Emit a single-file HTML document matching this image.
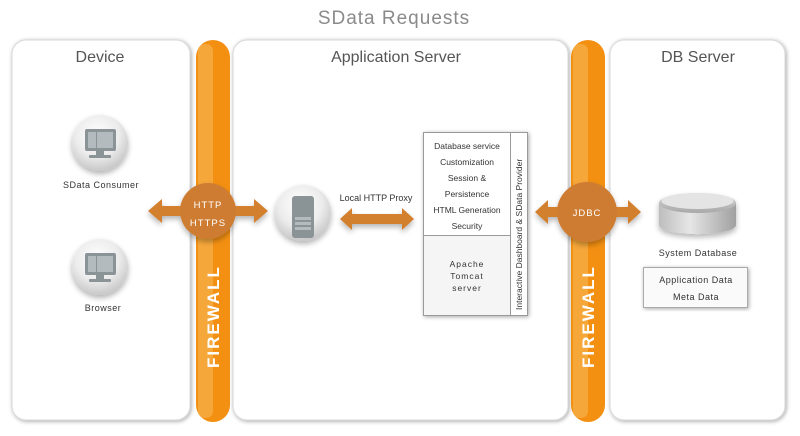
<!DOCTYPE html>
<html><head><meta charset="utf-8"><style>
html,body{margin:0;padding:0;background:#fff;}
svg{display:block;font-family:"Liberation Sans",sans-serif;}
</style></head><body>
<svg width="800" height="436" viewBox="0 0 800 436" xmlns="http://www.w3.org/2000/svg">
<defs>
<radialGradient id="ball" cx="45%" cy="35%" r="65%">
<stop offset="0" stop-color="#ffffff"/><stop offset="0.6" stop-color="#ececec"/><stop offset="1" stop-color="#c8c8c8"/>
</radialGradient>
<linearGradient id="cyl" x1="0" x2="0" y1="0" y2="1"><stop offset="0" stop-color="#d8d8d8"/><stop offset="1" stop-color="#a8a8a8"/></linearGradient>
<linearGradient id="cylb" x1="0" x2="1" y1="0" y2="0"><stop offset="0" stop-color="#bdbdbd"/><stop offset="0.4" stop-color="#e6e6e6"/><stop offset="1" stop-color="#a0a0a0"/></linearGradient>
<filter id="sh" x="-10%" y="-10%" width="120%" height="120%"><feGaussianBlur in="SourceAlpha" stdDeviation="2"/><feOffset dx="1" dy="1"/><feComponentTransfer><feFuncA type="linear" slope="0.35"/></feComponentTransfer><feMerge><feMergeNode/><feMergeNode in="SourceGraphic"/></feMerge></filter>
<filter id="glow" x="-30%" y="-30%" width="160%" height="160%"><feGaussianBlur in="SourceAlpha" stdDeviation="3"/><feOffset dy="3"/><feComponentTransfer><feFuncA type="linear" slope="0.3"/></feComponentTransfer><feMerge><feMergeNode/><feMergeNode in="SourceGraphic"/></feMerge></filter>
</defs>

<text x="394" y="24" font-size="19" fill="#8a8a8a" text-anchor="middle" letter-spacing="1">SData Requests</text>

<g filter="url(#sh)" fill="#fff" stroke="#d8d8d8" stroke-width="1">
<rect x="12" y="40" width="178" height="380" rx="14"/>
<rect x="233" y="40" width="335" height="380" rx="14"/>
<rect x="610" y="40" width="175" height="380" rx="14"/>
</g>
<text x="100" y="62" font-size="16" fill="#555" text-anchor="middle">Device</text>
<text x="396" y="62" font-size="16" fill="#555" text-anchor="middle">Application Server</text>
<text x="698" y="62" font-size="16" fill="#555" text-anchor="middle">DB Server</text>

<!-- firewalls -->
<g>
<rect x="196" y="40" width="34" height="382" rx="17" fill="#f39012"/>
<rect x="198" y="44" width="15" height="374" rx="7" fill="#f6ac45" opacity="0.8"/>
<rect x="571" y="40" width="34" height="382" rx="17" fill="#f39012"/>
<rect x="573" y="44" width="15" height="374" rx="7" fill="#f6ac45" opacity="0.8"/>
<text transform="translate(219,368) rotate(-90)" font-size="17" fill="#fff" letter-spacing="2" font-weight="bold">FIREWALL</text>
<text transform="translate(594,368) rotate(-90)" font-size="17" fill="#fff" letter-spacing="2" font-weight="bold">FIREWALL</text>
</g>

<!-- monitors -->
<g filter="url(#glow)">
<circle cx="100" cy="143" r="28" fill="url(#ball)"/>
<circle cx="100" cy="267" r="28" fill="url(#ball)"/>
<circle cx="303" cy="213" r="28" fill="url(#ball)"/>
</g>
<g fill="#8a9396">
<rect x="85" y="129" width="31" height="22" rx="2"/><rect x="96" y="151" width="8" height="5"/><rect x="89" y="155" width="22" height="3" rx="1"/>
<rect x="85" y="253" width="31" height="22" rx="2"/><rect x="96" y="275" width="8" height="5"/><rect x="89" y="279" width="22" height="3" rx="1"/>
<rect x="292" y="196" width="22" height="42" rx="3"/>
</g>
<g fill="#b4bbbe">
<rect x="88" y="132" width="8" height="16"/><rect x="97" y="132" width="16" height="16"/>
<rect x="88" y="256" width="8" height="16"/><rect x="97" y="256" width="16" height="16"/>
<rect x="295" y="217" width="16" height="3"/><rect x="295" y="222" width="16" height="3"/><rect x="295" y="227" width="16" height="3"/>
</g>
<text x="101" y="188" font-size="9" fill="#333" text-anchor="middle" letter-spacing="0.5">SData Consumer</text>
<text x="103" y="311" font-size="9" fill="#333" text-anchor="middle" letter-spacing="0.5">Browser</text>

<!-- arrows -->
<g fill="#d2802f" filter="url(#glow)">
<path d="M148,211 L162,199 L162,206 L254,206 L254,199 L268,211 L254,223 L254,216 L162,216 L162,223 Z"/>
<path d="M340,219 L352,208 L352,214 L402,214 L402,208 L414,219 L402,230 L402,224 L352,224 L352,230 Z"/>
<path d="M535,212 L548,200 L548,207 L628,207 L628,200 L641,212 L628,224 L628,217 L548,217 L548,224 Z"/>
<circle cx="208" cy="211" r="28" fill="#cd7c32"/>
<circle cx="587" cy="212" r="30" fill="#cd7c32"/>
</g>
<text x="208" y="208" font-size="9.5" fill="#fff" text-anchor="middle" letter-spacing="1">HTTP</text>
<text x="208" y="226" font-size="9.5" fill="#fff" text-anchor="middle" letter-spacing="1">HTTPS</text>
<text x="587" y="216" font-size="9.5" fill="#fff" text-anchor="middle" letter-spacing="1">JDBC</text>
<text x="376" y="201" font-size="9" fill="#333" text-anchor="middle">Local HTTP Proxy</text>

<!-- app box -->
<g filter="url(#sh)">
<rect x="423.5" y="132.5" width="104" height="183" fill="#fff" stroke="#999"/>
</g>
<rect x="424" y="236" width="86" height="79" fill="#f5f5f5"/>
<line x1="423.5" y1="235.5" x2="510" y2="235.5" stroke="#999"/>
<line x1="510.5" y1="132.5" x2="510.5" y2="315.5" stroke="#999"/>
<g font-size="8.5" fill="#333" text-anchor="middle">
<text x="467" y="149">Database service</text>
<text x="467" y="165">Customization</text>
<text x="467" y="181">Session &amp;</text>
<text x="467" y="197">Persistence</text>
<text x="467" y="213">HTML Generation</text>
<text x="467" y="229">Security</text>
<text x="467" y="267" letter-spacing="1">Apache</text>
<text x="467" y="279" letter-spacing="1">Tomcat</text>
<text x="467" y="291" letter-spacing="1">server</text>
</g>
<text transform="translate(522,310) rotate(-90)" font-size="8.5" fill="#333">Interactive Dashboard &amp; SData Provider</text>

<!-- DB -->
<g filter="url(#glow)">
<path d="M659,203 L659,225 A38,9 0 0 0 736,225 L736,203 Z" fill="url(#cylb)"/>
<ellipse cx="697.5" cy="203" rx="38.5" ry="10" fill="url(#cyl)"/>
</g>
<ellipse cx="697.5" cy="201" rx="36" ry="8" fill="#e4e4e4"/>
<text x="698" y="256" font-size="9" fill="#333" text-anchor="middle" letter-spacing="0.5">System Database</text>
<g filter="url(#sh)"><rect x="643.5" y="267.5" width="104" height="40" fill="#fafafa" stroke="#aaa"/></g>
<text x="696" y="283" font-size="9" fill="#333" text-anchor="middle" letter-spacing="0.5">Application Data</text>
<text x="696" y="300" font-size="9" fill="#333" text-anchor="middle" letter-spacing="0.5">Meta Data</text>
</svg>
</body></html>
